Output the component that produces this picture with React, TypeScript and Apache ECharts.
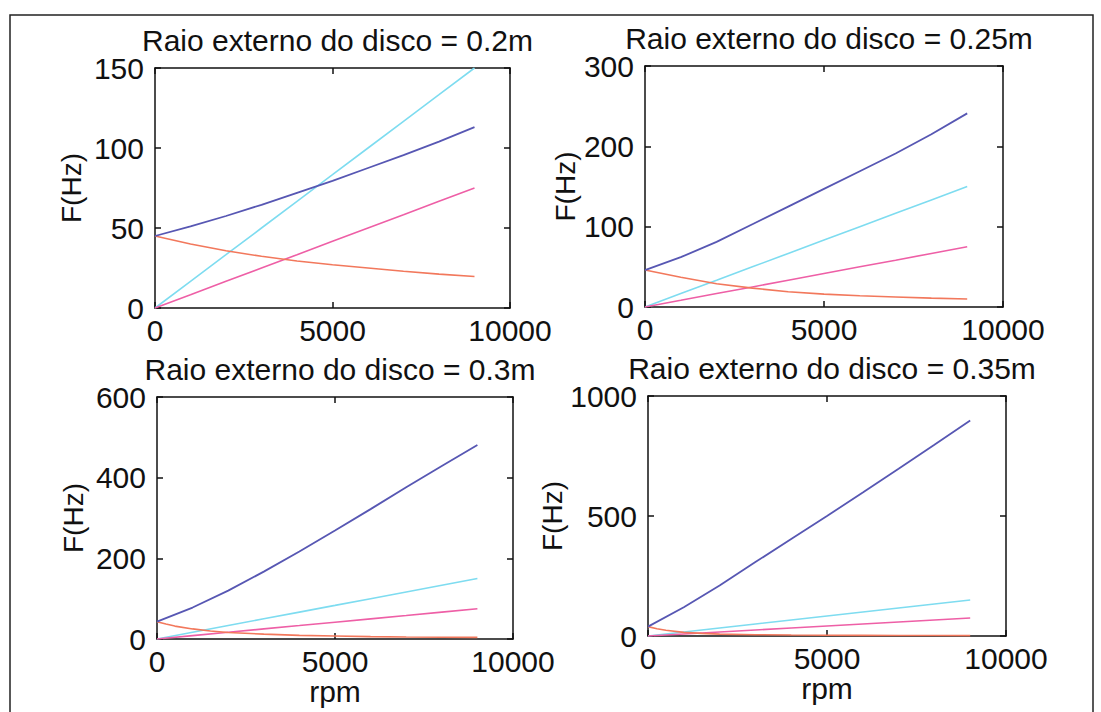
import React, { useEffect, useRef } from "react";
import * as echarts from "echarts";

const titles = [
  "Raio externo do disco = 0.2m",
  "Raio externo do disco = 0.25m",
  "Raio externo do disco = 0.3m",
  "Raio externo do disco = 0.35m",
];
const yMax = [150, 300, 600, 1000];
const yInterval = [50, 100, 200, 500];

const rpm = [0, 1000, 2000, 3000, 4000, 5000, 6000, 7000, 8000, 9000];
const rpmFine = [0, 250, 500, 1000, 1500, 2000, 3000, 4000, 5000, 6000, 7000, 8000, 9000];

const cyan = [0, 16.7, 33.3, 50, 66.7, 83.3, 100, 116.7, 133.3, 150];
const pink = [0, 8.3, 16.7, 25, 33.3, 41.7, 50, 58.3, 66.7, 75];

const blue1 = [45, 51, 57.5, 64.5, 72, 79.5, 87.5, 95.5, 104, 113];
const orange1 = [45, 40, 35.8, 32.3, 29.4, 27, 25, 23, 21.2, 19.7];

const blue2 = [46, 62, 81, 103, 125, 147, 169, 191, 215, 241];
const orange2 = [46, 37, 29, 23.5, 19, 16, 14, 12.5, 11, 10];

const blue3 = [43, 78, 120, 167, 217, 269, 322, 376, 429, 481];
const orange3 = [43, 37, 32, 25, 20, 16, 12, 9, 7.5, 6, 5, 4.5, 4];

const blue4 = [39, 120, 210, 308, 404, 500, 598, 697, 797, 898];
const orange4 = [39, 30, 24, 15, 11, 8, 5.5, 4, 3, 2.5, 2, 2, 1.5];

const blues = [blue1, blue2, blue3, blue4];
const oranges = [orange1, orange2, orange3, orange4];
const orangeX = [rpm, rpm, rpmFine, rpmFine];

const COLORS = { blue: "#5757b3", cyan: "#7edcf0", pink: "#ee5fa6", orange: "#f2785c" };
const FONT = "'Liberation Sans', Arial, sans-serif";

const grids = [
  { left: 155, top: 68, width: 355, height: 240 },
  { left: 645, top: 66, width: 358, height: 241 },
  { left: 157, top: 397, width: 356, height: 242 },
  { left: 648, top: 396, width: 358, height: 240 },
];

function pairs(xs: number[], ys: number[]) {
  return xs.map((x, i) => [x, ys[i]]);
}

export default function App() {
  const ref = useRef<HTMLDivElement>(null);
  useEffect(() => {
    if (!ref.current) return;
    const chart = echarts.init(ref.current, undefined, { renderer: "svg" });
    const axisLine = { show: true, onZero: false, lineStyle: { color: "#111", width: 1.5 } };
    const tick = { show: true, inside: true, length: 6, lineStyle: { color: "#111", width: 1.5 } };
    const label = { color: "#111", fontSize: 30, fontFamily: FONT, formatter: (v: number) => String(v) };
    const xAxis: any[] = [];
    const yAxis: any[] = [];
    const series: any[] = [];
    grids.forEach((g, i) => {
      const bottomRow = i >= 2;
      xAxis.push({
        type: "value", gridIndex: i, min: 0, max: 10000, interval: 5000, position: "bottom",
        axisLine, axisTick: tick, splitLine: { show: false },
        axisLabel: { ...label, margin: 7 },
        name: bottomRow ? "rpm" : "", nameLocation: "middle", nameGap: 30,
        nameTextStyle: { color: "#111", fontSize: 30, fontFamily: FONT },
      });
      xAxis.push({
        type: "value", gridIndex: i, min: 0, max: 10000, interval: 5000, position: "top",
        axisLine, axisTick: tick, splitLine: { show: false }, axisLabel: { show: false },
      });
      yAxis.push({
        type: "value", gridIndex: i, min: 0, max: yMax[i], interval: yInterval[i], position: "left",
        axisLine, axisTick: tick, splitLine: { show: false },
        axisLabel: { ...label, margin: 11 },
        name: "F(Hz)", nameLocation: "middle", nameGap: i % 2 === 0 ? 70 : 66,
        nameTextStyle: { color: "#111", fontSize: 28, fontFamily: FONT },
      });
      yAxis.push({
        type: "value", gridIndex: i, min: 0, max: yMax[i], interval: yInterval[i], position: "right",
        axisLine, axisTick: tick, splitLine: { show: false }, axisLabel: { show: false },
      });
      const base = { type: "line", xAxisIndex: i * 2, yAxisIndex: i * 2, showSymbol: false, symbol: "none" };
      series.push({ ...base, name: "cyan" + i, data: pairs(rpm, cyan), lineStyle: { color: COLORS.cyan, width: 1.6 } });
      series.push({ ...base, name: "pink" + i, data: pairs(rpm, pink), lineStyle: { color: COLORS.pink, width: 1.6 } });
      series.push({ ...base, name: "orange" + i, data: pairs(orangeX[i], oranges[i]), lineStyle: { color: COLORS.orange, width: 1.6 } });
      series.push({ ...base, name: "blue" + i, data: pairs(rpm, blues[i]), lineStyle: { color: COLORS.blue, width: 1.8 } });
    });
    const title = grids.map((g, i) => ({
      text: titles[i],
      left: g.left + g.width / 2,
      textAlign: "center",
      top: g.top - 48,
      textStyle: { color: "#111", fontSize: 30, fontWeight: "normal", fontFamily: FONT },
    }));
    chart.setOption({
      animation: false,
      backgroundColor: "#fff",
      title,
      grid: grids.map((g) => ({ ...g, containLabel: false })),
      xAxis,
      yAxis,
      series,
      graphic: [
        {
          type: "rect",
          shape: { x: 10, y: 15, width: 1083, height: 720 },
          style: { fill: "none", stroke: "#222", lineWidth: 1.5 },
          silent: true,
        },
      ],
    });
    return () => chart.dispose();
  }, []);
  return <div ref={ref} style={{ position: "fixed", left: 0, top: 0, width: 1101, height: 712 }} />;
}
